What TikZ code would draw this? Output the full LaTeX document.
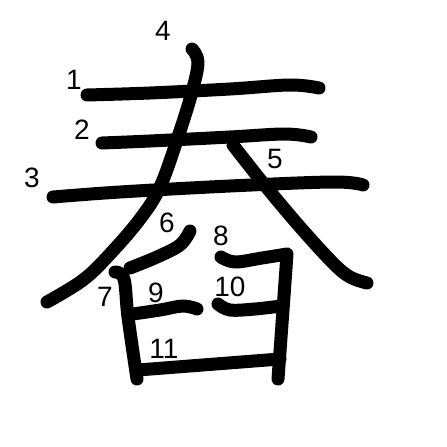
\documentclass[tikz,border=0pt]{standalone}
\usepackage{fontspec}
\setmainfont{Liberation Sans}
\begin{document}
\begin{tikzpicture}[x=1pt,y=-1pt,
  kstroke/.style={line width=13pt, line cap=round, line join=round},
  num/.style={font=\fontsize{28}{28}\selectfont, inner sep=0pt}]
\useasboundingbox (0,0) rectangle (447,447);
% stroke 1
\draw[kstroke] plot[smooth, tension=0.6] coordinates {(87,95) (150,93) (230,89) (290,85) (319,88)};
% stroke 2
\draw[kstroke] plot[smooth, tension=0.6] coordinates {(102,143) (150,141) (230,137) (285,134) (311,137)};
% stroke 3
\draw[kstroke] plot[smooth, tension=0.6] coordinates {(53,197) (120,192) (230,186) (333,182) (363,185)};
% stroke 4
\draw[kstroke] plot[smooth, tension=0.6] coordinates {(192,49) (198,62) (192,92) (178,137) (160,187) (140,219) (110,254) (83,280) (47,302)};
% stroke 5
\draw[kstroke] plot[smooth, tension=0.6] coordinates {(233,145) (263,183) (300,227) (333,263) (350,277) (367,283)};
% stroke 6
\draw[kstroke] plot[smooth, tension=0.6] coordinates {(190,231) (180,245) (157,257) (130,268)};
% stroke 7
\draw[kstroke] plot[smooth, tension=0.6] coordinates {(115,272) (124,279) (128,317) (137,379)};
% stroke 8
\draw[kstroke] plot[smooth, tension=0.6] coordinates {(221,257) (235,262) (262,258) (287,254)}
  -- (283,310) -- (278,379);
% stroke 9
\draw[kstroke] plot[smooth, tension=0.6] coordinates {(133,314) (160,310) (183,306) (197,309)};
% stroke 10
\draw[kstroke] plot[smooth, tension=0.6] coordinates {(218,304) (230,310) (255,309) (281,306)};
% stroke 11
\draw[kstroke] (138,370) -- (280,359);
% numbers
\node[num] (n1) at (74,80) {1};
\node[num] (n2) at (82,130) {2};
\node[num] (n3) at (32,178) {3};
\node[num] (n4) at (163,31) {4};
\node[num] (n5) at (275,159) {5};
\node[num] (n6) at (167,223) {6};
\node[num] (n7) at (105,297) {7};
\node[num] (n8) at (221,236) {8};
\node[num] (n9) at (156,293) {9};
\node[num] (n10) at (230,287) {10};
\node[num] (n11) at (164,349) {11};
\end{tikzpicture}
\end{document}
